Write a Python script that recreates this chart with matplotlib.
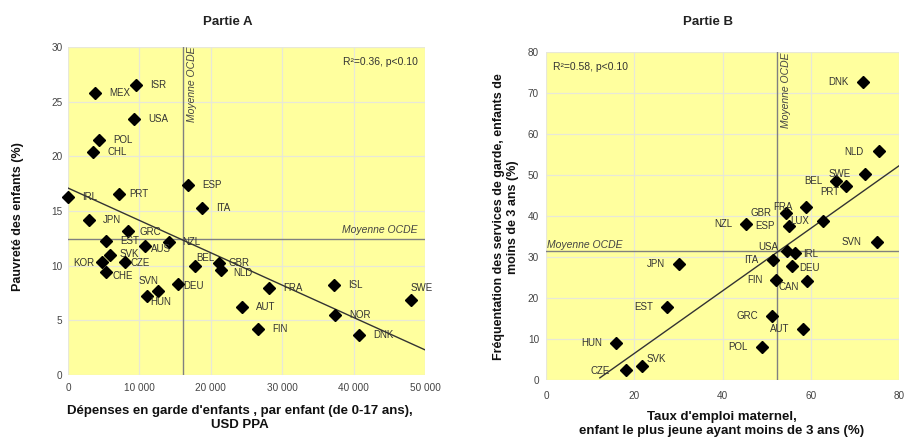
import matplotlib
matplotlib.use("Agg")
import matplotlib.pyplot as plt
from matplotlib import font_manager

# Partie A : dépenses en garde d'enfants vs pauvreté des enfants
pays_a = ["MEX", "ISR", "USA", "POL", "CHL", "ESP", "ITA", "IRL", "PRT", "JPN",
          "GRC", "EST", "AUS", "NZL", "SVK", "KOR", "CZE", "CHE", "BEL", "GBR",
          "NLD", "SVN", "HUN", "DEU", "AUT", "FRA", "ISL", "SWE", "NOR", "FIN", "DNK"]
depenses_a = [3800, 9540, 9260, 4360, 3570, 16850, 18730, 0, 7120, 2970,
              8380, 5340, 10800, 14110, 5900, 4740, 7960, 5340, 17830, 21150,
              21380, 12570, 11030, 15450, 24430, 28180, 37270, 48100, 37410, 26640, 40770]
pauvrete_a = [25.8, 26.5, 23.4, 21.5, 20.4, 17.4, 15.3, 16.3, 16.6, 14.2,
              13.2, 12.3, 11.8, 12.2, 11.0, 10.3, 10.3, 9.4, 10.0, 10.2,
              9.6, 7.7, 7.2, 8.3, 6.2, 8.0, 8.2, 6.9, 5.5, 4.2, 3.7]
moyenne_a = (16150, 12.4)
tendance_a_x = [0, 50000]
tendance_a_y = [17.1, 2.3]

# Partie B : taux d'emploi maternel vs fréquentation des services de garde
pays_b = ["DNK", "NLD", "SWE", "BEL", "PRT", "FRA", "GBR", "NZL", "ESP", "LUX",
          "SVN", "USA", "IRL", "ITA", "JPN", "DEU", "FIN", "CAN", "EST", "GRC",
          "AUT", "HUN", "POL", "SVK", "CZE"]
emploi_b = [71.8, 75.5, 72.3, 65.8, 68.0, 59.0, 54.3, 45.4, 55.0, 62.8,
            75.1, 54.6, 56.5, 51.4, 30.2, 55.8, 52.2, 59.1, 27.4, 51.2,
            58.3, 15.9, 48.9, 21.8, 18.1]
garde_b = [72.6, 55.9, 50.2, 48.4, 47.3, 42.2, 40.6, 37.9, 37.4, 38.6,
           33.7, 31.4, 30.9, 29.2, 28.2, 27.7, 24.3, 24.1, 17.6, 15.6,
           12.3, 8.8, 8.0, 3.3, 2.3]
moyenne_b = (52.3, 31.5)
tendance_b_x = [12.2, 80]
tendance_b_y = [0.4, 52.2]

# décalages des étiquettes (pixels, dy vers le haut)
decal_a = {"SVN": (1, 10, "right"), "SWE": (-1, 12, "left"), "BEL": (1, 8, "left"),
           "KOR": (-7, -1, "right"), "AUS": (6, -3, "left"), "CZE": (6, -1, "left"),
           "CHE": (6, -4, "left"), "HUN": (3, -6, "left"), "DEU": (5, -2, "left"),
           "SVK": (9, 1, "left"), "GBR": (9, 0, "left"), "PRT": (10, 0, "left"),
           "NLD": (13, -3, "left"), "GRC": (12, -1, "left")}
decal_b = {"IRL": (8, -1, "left"), "DEU": (7, -2, "left"), "SVK": (4, 7, "left"),
           "PRT": (-7, -6, "right"), "CAN": (-8, -6, "right"), "USA": (-9, 4, "right"),
           "NLD": (-16, -1, "right"), "SVN": (-16, 0, "right"), "CZE": (-16, -1, "right")}

noms = {f.name for f in font_manager.fontManager.ttflist}
etroite = "Liberation Sans Narrow" if "Liberation Sans Narrow" in noms else "Liberation Sans"
plt.rcParams["font.family"] = ["Liberation Sans", "DejaVu Sans"]

JAUNE = "#FFFF9E"
GRIS = "#333333"

fig = plt.figure(figsize=(9.06, 4.44), dpi=100)
ax1 = fig.add_axes([68 / 906, 1 - 375 / 444, 357 / 906, 328 / 444])
ax2 = fig.add_axes([546 / 906, 1 - 379.5 / 444, 353 / 906, 327.5 / 444])


def etiquettes(ax, pays, xs, ys, decal, defaut):
    for nom, x, y in zip(pays, xs, ys):
        dx, dy, ha = decal.get(nom, defaut)
        ax.annotate(nom, (x, y), xytext=(dx * 0.72, dy * 0.72), textcoords="offset points",
                    ha=ha, va="center", fontsize=7, color=GRIS)


def habillage(ax):
    ax.set_facecolor(JAUNE)
    for s in ax.spines.values():
        s.set_visible(False)
    ax.grid(True, color="#E8E8D8", lw=0.9)
    ax.set_axisbelow(True)
    ax.tick_params(length=0, labelsize=7.2, labelcolor="#444444")
    for lab in ax.get_xticklabels() + ax.get_yticklabels():
        lab.set_family(etroite)


# ---- Partie A ----
ax1.set_xlim(0, 50000)
ax1.set_ylim(0, 30)
ax1.set_xticks(range(0, 50001, 10000))
ax1.set_xticklabels(["0", "10 000", "20 000", "30 000", "40 000", "50 000"])
ax1.set_yticks(range(0, 31, 5))
habillage(ax1)
ax1.tick_params(axis="x", pad=6)
ax1.tick_params(axis="y", pad=4)
ax1.axvline(moyenne_a[0], color="#808080", lw=1)
ax1.axhline(moyenne_a[1], color="#808080", lw=1)
ax1.plot(tendance_a_x, tendance_a_y, color="#333333", lw=1)
ax1.plot(depenses_a, pauvrete_a, "D", color="black", ms=6.2, clip_on=False)
etiquettes(ax1, pays_a, depenses_a, pauvrete_a, decal_a, (14, 0, "left"))
ax1.annotate("Moyenne OCDE", (moyenne_a[0], 30), xytext=(9 * 0.72, 0), textcoords="offset points",
             rotation=90, ha="center", va="top", fontsize=7.5, style="italic", color="#444444")
ax1.annotate("Moyenne OCDE", (49000, moyenne_a[1]), xytext=(0, 9 * 0.72), textcoords="offset points",
             ha="right", va="center", fontsize=7.5, style="italic", color="#444444")
ax1.text(0.98, 0.955, "R²=0.36, p<0.10", transform=ax1.transAxes, ha="right", va="center",
         fontsize=7.5, color=GRIS)

# ---- Partie B ----
ax2.set_xlim(0, 80)
ax2.set_ylim(0, 80)
ax2.set_xticks(range(0, 81, 20))
ax2.set_yticks(range(0, 81, 10))
habillage(ax2)
ax2.tick_params(axis="x", pad=8)
ax2.tick_params(axis="y", pad=5)
ax2.axvline(moyenne_b[0], color="#808080", lw=1)
ax2.axhline(moyenne_b[1], color="#808080", lw=1)
ax2.plot(tendance_b_x, tendance_b_y, color="#333333", lw=1)
ax2.plot(emploi_b, garde_b, "D", color="black", ms=6.2, clip_on=False)
etiquettes(ax2, pays_b, emploi_b, garde_b, decal_b, (-14, 0, "right"))
ax2.annotate("Moyenne OCDE", (moyenne_b[0], 80), xytext=(9 * 0.72, 0), textcoords="offset points",
             rotation=90, ha="center", va="top", fontsize=7.5, style="italic", color="#444444")
ax2.annotate("Moyenne OCDE", (0.3, moyenne_b[1]), xytext=(0, 6 * 0.72), textcoords="offset points",
             ha="left", va="center", fontsize=7.5, style="italic", color="#444444")
ax2.text(0.02, 0.955, "R²=0.58, p<0.10", transform=ax2.transAxes, ha="left", va="center",
         fontsize=7.5, color=GRIS)

# titres et libellés d'axes
fig.text(228 / 906, 1 - 22 / 444, "Partie A", ha="center", va="center", fontsize=9.5, weight="bold", color="#222222")
fig.text(708 / 906, 1 - 22 / 444, "Partie B", ha="center", va="center", fontsize=9.5, weight="bold", color="#222222")
fig.text(18 / 906, 1 - 217 / 444, "Pauvreté des enfants (%)", rotation=90, ha="center", va="center",
         fontsize=9, weight="bold", color="#111111")
fig.text(506 / 906, 1 - 217 / 444, "Fréquentation des services de garde, enfants de\nmoins de 3 ans (%)",
         rotation=90, ha="center", va="center", fontsize=9, weight="bold", color="#111111",
         linespacing=1.15)
fig.text(240 / 906, 1 - 418 / 444, "Dépenses en garde d'enfants , par enfant (de 0-17 ans),\nUSD PPA",
         ha="center", va="center", fontsize=9.5, weight="bold", family=etroite, color="#111111",
         linespacing=1.2)
fig.text(722 / 906, 1 - 424 / 444, "Taux d'emploi maternel,\nenfant le plus jeune ayant moins de 3 ans (%)",
         ha="center", va="center", fontsize=9.5, weight="bold", family=etroite, color="#111111",
         linespacing=1.2)

fig.savefig("out.png", dpi=100, facecolor="white")
